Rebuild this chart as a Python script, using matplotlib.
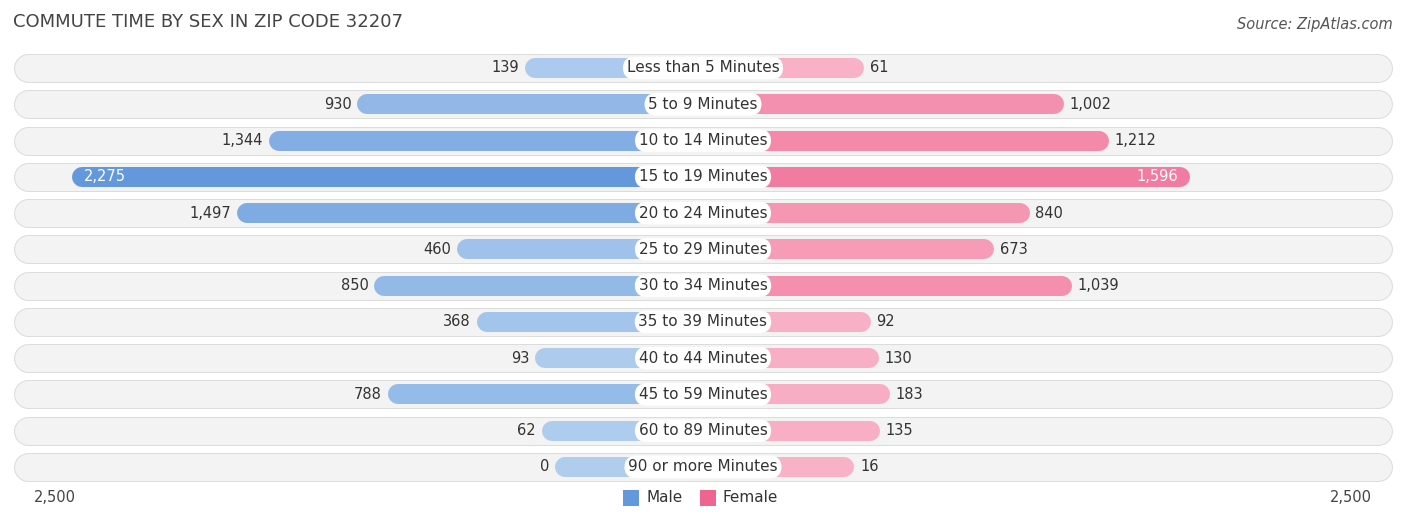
import matplotlib.pyplot as plt
import numpy as np
from matplotlib.colors import to_rgb

categories = ["Less than 5 Minutes", "5 to 9 Minutes", "10 to 14 Minutes", "15 to 19 Minutes",
              "20 to 24 Minutes", "25 to 29 Minutes", "30 to 34 Minutes", "35 to 39 Minutes",
              "40 to 44 Minutes", "45 to 59 Minutes", "60 to 89 Minutes", "90 or more Minutes"]
male = [139, 930, 1344, 2275, 1497, 460, 850, 368, 93, 788, 62, 0]
female = [61, 1002, 1212, 1596, 840, 673, 1039, 92, 130, 183, 135, 16]

W, H = 1406, 523
PX = 0.2125          # pixels per unit
OFFSET = 148 / PX    # minimum bar length (behind the centre label)
PT = 72 / 100        # points per pixel


def shade(light, dark, t):
    a, b = np.array(to_rgb(light)), np.array(to_rgb(dark))
    return tuple(a + (b - a) * t)


fig = plt.figure(figsize=(W / 100, H / 100), dpi=100)
ax = fig.add_axes([0, 0, 1, 1])
ax.set_xlim(-703 / PX, 703 / PX)
ax.set_ylim((H - 68) / 36.27, -68 / 36.27)
ax.axis("off")

vmax = max(max(male), max(female))
bg_half = (1392 - 703 - 14) / PX
for i, (cat, m, f) in enumerate(zip(categories, male, female)):
    ax.plot([-bg_half, bg_half], [i, i], color="#dcdcdc", lw=29 * PT, solid_capstyle="round", zorder=1)
    ax.plot([-bg_half, bg_half], [i, i], color="#f3f3f3", lw=27 * PT, solid_capstyle="round", zorder=1)

    cap = 10 / PX
    mc = shade("#b0cdee", "#6399dc", m / vmax)
    fc = shade("#f8b3c8", "#f06490", f / vmax)
    ml, fl = OFFSET + m, OFFSET + f
    ax.plot([-cap, -(ml - cap)], [i, i], color=mc, lw=20 * PT, solid_capstyle="round", zorder=2)
    ax.plot([cap, fl - cap], [i, i], color=fc, lw=20 * PT, solid_capstyle="round", zorder=2)

    ax.text(0, i, cat, ha="center", va="center", fontsize=11, color="#333333", zorder=4,
            bbox=dict(boxstyle="round,pad=0.25,rounding_size=0.8", fc="white", ec="none"))

    if m > 2000:
        ax.text(-ml + 12 / PX, i, f"{m:,}", ha="left", va="center", fontsize=10.5, color="white", zorder=3)
    else:
        ax.text(-ml - 6 / PX, i, f"{m:,}", ha="right", va="center", fontsize=10.5, color="#333333", zorder=3)
    if f > 1500:
        ax.text(fl - 12 / PX, i, f"{f:,}", ha="right", va="center", fontsize=10.5, color="white", zorder=3)
    else:
        ax.text(fl + 6 / PX, i, f"{f:,}", ha="left", va="center", fontsize=10.5, color="#333333", zorder=3)

fig.text(13 / W, 1 - 22 / H, "COMMUTE TIME BY SEX IN ZIP CODE 32207", fontsize=13, color="#444444", va="center")
fig.text(1393 / W, 1 - 24 / H, "Source: ZipAtlas.com", fontsize=10.5, color="#555555",
         ha="right", va="center", style="italic")
fig.text(55 / W, 1 - 498 / H, "2,500", fontsize=10.5, color="#444444", ha="center", va="center")
fig.text(1351 / W, 1 - 498 / H, "2,500", fontsize=10.5, color="#444444", ha="center", va="center")

fig.patches.append(plt.Rectangle((623 / W, 1 - 506 / H), 16 / W, 16 / H, transform=fig.transFigure,
                                 fc="#6399dc", ec="none"))
fig.text(646 / W, 1 - 498 / H, "Male", fontsize=11, color="#333333", va="center")
fig.patches.append(plt.Rectangle((700 / W, 1 - 506 / H), 16 / W, 16 / H, transform=fig.transFigure,
                                 fc="#f06490", ec="none"))
fig.text(723 / W, 1 - 498 / H, "Female", fontsize=11, color="#333333", va="center")

fig.savefig("out.png", dpi=100)
